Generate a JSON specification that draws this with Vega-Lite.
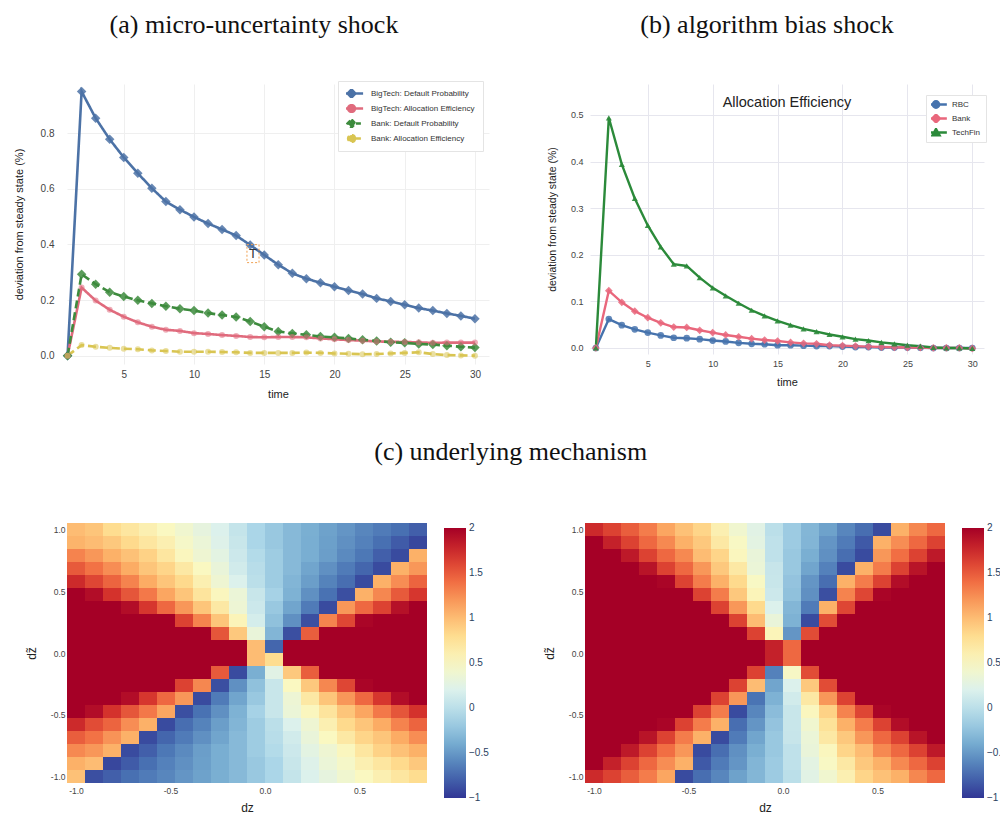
{
"$schema": "https://vega.github.io/schema/vega-lite/v6.json",
"background": "white",
"padding": {"left": 13, "top": 11, "right": 0, "bottom": 0},
"config": {
 "view": {"stroke": null},
 "font": "Liberation Sans",
 "axis": {"domain": false, "ticks": false, "labelFont": "Liberation Sans", "titleFont": "Liberation Sans", "titleFontWeight": "normal", "labelColor": "#444444", "titleColor": "#222222"},
 "title": {"font": "Liberation Serif", "fontSize": 26, "fontWeight": "normal", "color": "#111111"},
 "legend": {"labelFont": "Liberation Sans"}
},
"datasets": {
"a": [
{"time":1,"series":"BigTech: Default Probability","value":0},{"time":2,"series":"BigTech: Default Probability","value":0.95},{"time":3,"series":"BigTech: Default Probability","value":0.854},{"time":4,"series":"BigTech: Default Probability","value":0.778},{"time":5,"series":"BigTech: Default Probability","value":0.713},{"time":6,"series":"BigTech: Default Probability","value":0.656},{"time":7,"series":"BigTech: Default Probability","value":0.602},{"time":8,"series":"BigTech: Default Probability","value":0.554},{"time":9,"series":"BigTech: Default Probability","value":0.525},{"time":10,"series":"BigTech: Default Probability","value":0.499},{"time":11,"series":"BigTech: Default Probability","value":0.475},{"time":12,"series":"BigTech: Default Probability","value":0.454},{"time":13,"series":"BigTech: Default Probability","value":0.432},{"time":14,"series":"BigTech: Default Probability","value":0.398},{"time":15,"series":"BigTech: Default Probability","value":0.362},{"time":16,"series":"BigTech: Default Probability","value":0.327},{"time":17,"series":"BigTech: Default Probability","value":0.296},{"time":18,"series":"BigTech: Default Probability","value":0.277},{"time":19,"series":"BigTech: Default Probability","value":0.262},{"time":20,"series":"BigTech: Default Probability","value":0.248},{"time":21,"series":"BigTech: Default Probability","value":0.234},{"time":22,"series":"BigTech: Default Probability","value":0.222},{"time":23,"series":"BigTech: Default Probability","value":0.206},{"time":24,"series":"BigTech: Default Probability","value":0.195},{"time":25,"series":"BigTech: Default Probability","value":0.183},{"time":26,"series":"BigTech: Default Probability","value":0.171},{"time":27,"series":"BigTech: Default Probability","value":0.162},{"time":28,"series":"BigTech: Default Probability","value":0.152},{"time":29,"series":"BigTech: Default Probability","value":0.143},{"time":30,"series":"BigTech: Default Probability","value":0.133},
{"time":1,"series":"BigTech: Allocation Efficiency","value":0},{"time":2,"series":"BigTech: Allocation Efficiency","value":0.245},{"time":3,"series":"BigTech: Allocation Efficiency","value":0.198},{"time":4,"series":"BigTech: Allocation Efficiency","value":0.165},{"time":5,"series":"BigTech: Allocation Efficiency","value":0.14},{"time":6,"series":"BigTech: Allocation Efficiency","value":0.12},{"time":7,"series":"BigTech: Allocation Efficiency","value":0.104},{"time":8,"series":"BigTech: Allocation Efficiency","value":0.093},{"time":9,"series":"BigTech: Allocation Efficiency","value":0.089},{"time":10,"series":"BigTech: Allocation Efficiency","value":0.081},{"time":11,"series":"BigTech: Allocation Efficiency","value":0.078},{"time":12,"series":"BigTech: Allocation Efficiency","value":0.074},{"time":13,"series":"BigTech: Allocation Efficiency","value":0.071},{"time":14,"series":"BigTech: Allocation Efficiency","value":0.067},{"time":15,"series":"BigTech: Allocation Efficiency","value":0.066},{"time":16,"series":"BigTech: Allocation Efficiency","value":0.067},{"time":17,"series":"BigTech: Allocation Efficiency","value":0.067},{"time":18,"series":"BigTech: Allocation Efficiency","value":0.066},{"time":19,"series":"BigTech: Allocation Efficiency","value":0.062},{"time":20,"series":"BigTech: Allocation Efficiency","value":0.059},{"time":21,"series":"BigTech: Allocation Efficiency","value":0.056},{"time":22,"series":"BigTech: Allocation Efficiency","value":0.054},{"time":23,"series":"BigTech: Allocation Efficiency","value":0.051},{"time":24,"series":"BigTech: Allocation Efficiency","value":0.05},{"time":25,"series":"BigTech: Allocation Efficiency","value":0.049},{"time":26,"series":"BigTech: Allocation Efficiency","value":0.048},{"time":27,"series":"BigTech: Allocation Efficiency","value":0.046},{"time":28,"series":"BigTech: Allocation Efficiency","value":0.047},{"time":29,"series":"BigTech: Allocation Efficiency","value":0.047},{"time":30,"series":"BigTech: Allocation Efficiency","value":0.047},
{"time":1,"series":"Bank: Default Probability","value":0},{"time":2,"series":"Bank: Default Probability","value":0.293},{"time":3,"series":"Bank: Default Probability","value":0.257},{"time":4,"series":"Bank: Default Probability","value":0.228},{"time":5,"series":"Bank: Default Probability","value":0.213},{"time":6,"series":"Bank: Default Probability","value":0.199},{"time":7,"series":"Bank: Default Probability","value":0.188},{"time":8,"series":"Bank: Default Probability","value":0.178},{"time":9,"series":"Bank: Default Probability","value":0.169},{"time":10,"series":"Bank: Default Probability","value":0.162},{"time":11,"series":"Bank: Default Probability","value":0.153},{"time":12,"series":"Bank: Default Probability","value":0.146},{"time":13,"series":"Bank: Default Probability","value":0.139},{"time":14,"series":"Bank: Default Probability","value":0.123},{"time":15,"series":"Bank: Default Probability","value":0.104},{"time":16,"series":"Bank: Default Probability","value":0.087},{"time":17,"series":"Bank: Default Probability","value":0.08},{"time":18,"series":"Bank: Default Probability","value":0.075},{"time":19,"series":"Bank: Default Probability","value":0.069},{"time":20,"series":"Bank: Default Probability","value":0.066},{"time":21,"series":"Bank: Default Probability","value":0.062},{"time":22,"series":"Bank: Default Probability","value":0.057},{"time":23,"series":"Bank: Default Probability","value":0.053},{"time":24,"series":"Bank: Default Probability","value":0.048},{"time":25,"series":"Bank: Default Probability","value":0.046},{"time":26,"series":"Bank: Default Probability","value":0.042},{"time":27,"series":"Bank: Default Probability","value":0.04},{"time":28,"series":"Bank: Default Probability","value":0.036},{"time":29,"series":"Bank: Default Probability","value":0.032},{"time":30,"series":"Bank: Default Probability","value":0.029},
{"time":1,"series":"Bank: Allocation Efficiency","value":0},{"time":2,"series":"Bank: Allocation Efficiency","value":0.038},{"time":3,"series":"Bank: Allocation Efficiency","value":0.032},{"time":4,"series":"Bank: Allocation Efficiency","value":0.028},{"time":5,"series":"Bank: Allocation Efficiency","value":0.025},{"time":6,"series":"Bank: Allocation Efficiency","value":0.023},{"time":7,"series":"Bank: Allocation Efficiency","value":0.019},{"time":8,"series":"Bank: Allocation Efficiency","value":0.017},{"time":9,"series":"Bank: Allocation Efficiency","value":0.014},{"time":10,"series":"Bank: Allocation Efficiency","value":0.014},{"time":11,"series":"Bank: Allocation Efficiency","value":0.014},{"time":12,"series":"Bank: Allocation Efficiency","value":0.013},{"time":13,"series":"Bank: Allocation Efficiency","value":0.012},{"time":14,"series":"Bank: Allocation Efficiency","value":0.01},{"time":15,"series":"Bank: Allocation Efficiency","value":0.01},{"time":16,"series":"Bank: Allocation Efficiency","value":0.01},{"time":17,"series":"Bank: Allocation Efficiency","value":0.01},{"time":18,"series":"Bank: Allocation Efficiency","value":0.011},{"time":19,"series":"Bank: Allocation Efficiency","value":0.01},{"time":20,"series":"Bank: Allocation Efficiency","value":0.008},{"time":21,"series":"Bank: Allocation Efficiency","value":0.007},{"time":22,"series":"Bank: Allocation Efficiency","value":0.005},{"time":23,"series":"Bank: Allocation Efficiency","value":0.006},{"time":24,"series":"Bank: Allocation Efficiency","value":0.008},{"time":25,"series":"Bank: Allocation Efficiency","value":0.01},{"time":26,"series":"Bank: Allocation Efficiency","value":0.012},{"time":27,"series":"Bank: Allocation Efficiency","value":0.006},{"time":28,"series":"Bank: Allocation Efficiency","value":0.002},{"time":29,"series":"Bank: Allocation Efficiency","value":0.001},{"time":30,"series":"Bank: Allocation Efficiency","value":0}
],
"noteA": [{"time": 14.2, "value": 0.367, "label": "T"}],
"b": [
{"time":1,"series":"RBC","value":0},{"time":2,"series":"RBC","value":0.062},{"time":3,"series":"RBC","value":0.049},{"time":4,"series":"RBC","value":0.04},{"time":5,"series":"RBC","value":0.033},{"time":6,"series":"RBC","value":0.027},{"time":7,"series":"RBC","value":0.022},{"time":8,"series":"RBC","value":0.021},{"time":9,"series":"RBC","value":0.019},{"time":10,"series":"RBC","value":0.016},{"time":11,"series":"RBC","value":0.014},{"time":12,"series":"RBC","value":0.011},{"time":13,"series":"RBC","value":0.009},{"time":14,"series":"RBC","value":0.008},{"time":15,"series":"RBC","value":0.006},{"time":16,"series":"RBC","value":0.006},{"time":17,"series":"RBC","value":0.005},{"time":18,"series":"RBC","value":0.004},{"time":19,"series":"RBC","value":0.004},{"time":20,"series":"RBC","value":0.003},{"time":21,"series":"RBC","value":0.002},{"time":22,"series":"RBC","value":0.002},{"time":23,"series":"RBC","value":0.001},{"time":24,"series":"RBC","value":0.001},{"time":25,"series":"RBC","value":0.001},{"time":26,"series":"RBC","value":0.0005},{"time":27,"series":"RBC","value":0},{"time":28,"series":"RBC","value":0},{"time":29,"series":"RBC","value":0},{"time":30,"series":"RBC","value":0},
{"time":1,"series":"Bank","value":0},{"time":2,"series":"Bank","value":0.123},{"time":3,"series":"Bank","value":0.098},{"time":4,"series":"Bank","value":0.079},{"time":5,"series":"Bank","value":0.065},{"time":6,"series":"Bank","value":0.054},{"time":7,"series":"Bank","value":0.045},{"time":8,"series":"Bank","value":0.044},{"time":9,"series":"Bank","value":0.038},{"time":10,"series":"Bank","value":0.033},{"time":11,"series":"Bank","value":0.028},{"time":12,"series":"Bank","value":0.024},{"time":13,"series":"Bank","value":0.02},{"time":14,"series":"Bank","value":0.017},{"time":15,"series":"Bank","value":0.015},{"time":16,"series":"Bank","value":0.012},{"time":17,"series":"Bank","value":0.01},{"time":18,"series":"Bank","value":0.009},{"time":19,"series":"Bank","value":0.006},{"time":20,"series":"Bank","value":0.005},{"time":21,"series":"Bank","value":0.004},{"time":22,"series":"Bank","value":0.003},{"time":23,"series":"Bank","value":0.002},{"time":24,"series":"Bank","value":0.0015},{"time":25,"series":"Bank","value":0.001},{"time":26,"series":"Bank","value":0.001},{"time":27,"series":"Bank","value":0},{"time":28,"series":"Bank","value":0},{"time":29,"series":"Bank","value":0},{"time":30,"series":"Bank","value":-0.001},
{"time":1,"series":"TechFin","value":0},{"time":2,"series":"TechFin","value":0.494},{"time":3,"series":"TechFin","value":0.394},{"time":4,"series":"TechFin","value":0.321},{"time":5,"series":"TechFin","value":0.263},{"time":6,"series":"TechFin","value":0.217},{"time":7,"series":"TechFin","value":0.18},{"time":8,"series":"TechFin","value":0.176},{"time":9,"series":"TechFin","value":0.151},{"time":10,"series":"TechFin","value":0.129},{"time":11,"series":"TechFin","value":0.112},{"time":12,"series":"TechFin","value":0.096},{"time":13,"series":"TechFin","value":0.081},{"time":14,"series":"TechFin","value":0.069},{"time":15,"series":"TechFin","value":0.058},{"time":16,"series":"TechFin","value":0.049},{"time":17,"series":"TechFin","value":0.041},{"time":18,"series":"TechFin","value":0.035},{"time":19,"series":"TechFin","value":0.029},{"time":20,"series":"TechFin","value":0.024},{"time":21,"series":"TechFin","value":0.019},{"time":22,"series":"TechFin","value":0.016},{"time":23,"series":"TechFin","value":0.012},{"time":24,"series":"TechFin","value":0.009},{"time":25,"series":"TechFin","value":0.006},{"time":26,"series":"TechFin","value":0.004},{"time":27,"series":"TechFin","value":0.001},{"time":28,"series":"TechFin","value":0},{"time":29,"series":"TechFin","value":0},{"time":30,"series":"TechFin","value":-0.001}
],
"hL": [
{"dz":-1,"dzt":1,"v":1.0},{"dz":-0.9048,"dzt":1,"v":0.95},{"dz":-0.8095,"dzt":1,"v":0.8},{"dz":-0.7143,"dzt":1,"v":0.7},{"dz":-0.619,"dzt":1,"v":0.6},{"dz":-0.5238,"dzt":1,"v":0.5},{"dz":-0.4286,"dzt":1,"v":0.4},{"dz":-0.3333,"dzt":1,"v":0.3},{"dz":-0.2381,"dzt":1,"v":0.2},{"dz":-0.1429,"dzt":1,"v":0.05},{"dz":-0.0476,"dzt":1,"v":-0.1},{"dz":0.0476,"dzt":1,"v":-0.2},{"dz":0.1429,"dzt":1,"v":-0.3},{"dz":0.2381,"dzt":1,"v":-0.37},{"dz":0.3333,"dzt":1,"v":-0.45},{"dz":0.4286,"dzt":1,"v":-0.52},{"dz":0.5238,"dzt":1,"v":-0.6},{"dz":0.619,"dzt":1,"v":-0.66},{"dz":0.7143,"dzt":1,"v":-0.72},{"dz":0.8095,"dzt":1,"v":-0.8},
{"dz":-1,"dzt":0.8947,"v":1.05},{"dz":-0.9048,"dzt":0.8947,"v":1.0},{"dz":-0.8095,"dzt":0.8947,"v":0.93},{"dz":-0.7143,"dzt":0.8947,"v":0.82},{"dz":-0.619,"dzt":0.8947,"v":0.7},{"dz":-0.5238,"dzt":0.8947,"v":0.6},{"dz":-0.4286,"dzt":0.8947,"v":0.45},{"dz":-0.3333,"dzt":0.8947,"v":0.35},{"dz":-0.2381,"dzt":0.8947,"v":0.22},{"dz":-0.1429,"dzt":0.8947,"v":0.08},{"dz":-0.0476,"dzt":0.8947,"v":-0.1},{"dz":0.0476,"dzt":0.8947,"v":-0.2},{"dz":0.1429,"dzt":0.8947,"v":-0.3},{"dz":0.2381,"dzt":0.8947,"v":-0.38},{"dz":0.3333,"dzt":0.8947,"v":-0.46},{"dz":0.4286,"dzt":0.8947,"v":-0.55},{"dz":0.5238,"dzt":0.8947,"v":-0.63},{"dz":0.619,"dzt":0.8947,"v":-0.72},{"dz":0.7143,"dzt":0.8947,"v":-0.82},{"dz":0.8095,"dzt":0.8947,"v":-0.92},
{"dz":-1,"dzt":0.7895,"v":1.3},{"dz":-0.9048,"dzt":0.7895,"v":1.2},{"dz":-0.8095,"dzt":0.7895,"v":1.07},{"dz":-0.7143,"dzt":0.7895,"v":0.97},{"dz":-0.619,"dzt":0.7895,"v":0.87},{"dz":-0.5238,"dzt":0.7895,"v":0.7},{"dz":-0.4286,"dzt":0.7895,"v":0.52},{"dz":-0.3333,"dzt":0.7895,"v":0.38},{"dz":-0.2381,"dzt":0.7895,"v":0.27},{"dz":-0.1429,"dzt":0.7895,"v":0.1},{"dz":-0.0476,"dzt":0.7895,"v":-0.05},{"dz":0.0476,"dzt":0.7895,"v":-0.17},{"dz":0.1429,"dzt":0.7895,"v":-0.3},{"dz":0.2381,"dzt":0.7895,"v":-0.38},{"dz":0.3333,"dzt":0.7895,"v":-0.47},{"dz":0.4286,"dzt":0.7895,"v":-0.58},{"dz":0.5238,"dzt":0.7895,"v":-0.68},{"dz":0.619,"dzt":0.7895,"v":-0.8},{"dz":0.7143,"dzt":0.7895,"v":-0.9},{"dz":0.8095,"dzt":0.7895,"v":1.07},
{"dz":-1,"dzt":0.6842,"v":1.5},{"dz":-0.9048,"dzt":0.6842,"v":1.38},{"dz":-0.8095,"dzt":0.6842,"v":1.25},{"dz":-0.7143,"dzt":0.6842,"v":1.1},{"dz":-0.619,"dzt":0.6842,"v":0.95},{"dz":-0.5238,"dzt":0.6842,"v":0.85},{"dz":-0.4286,"dzt":0.6842,"v":0.68},{"dz":-0.3333,"dzt":0.6842,"v":0.5},{"dz":-0.2381,"dzt":0.6842,"v":0.33},{"dz":-0.1429,"dzt":0.6842,"v":0.13},{"dz":-0.0476,"dzt":0.6842,"v":-0.02},{"dz":0.0476,"dzt":0.6842,"v":-0.17},{"dz":0.1429,"dzt":0.6842,"v":-0.3},{"dz":0.2381,"dzt":0.6842,"v":-0.43},{"dz":0.3333,"dzt":0.6842,"v":-0.55},{"dz":0.4286,"dzt":0.6842,"v":-0.66},{"dz":0.5238,"dzt":0.6842,"v":-0.77},{"dz":0.619,"dzt":0.6842,"v":-0.9},{"dz":0.7143,"dzt":0.6842,"v":1.07},{"dz":0.8095,"dzt":0.6842,"v":1.2},
{"dz":-1,"dzt":0.5789,"v":1.75},{"dz":-0.9048,"dzt":0.5789,"v":1.6},{"dz":-0.8095,"dzt":0.5789,"v":1.45},{"dz":-0.7143,"dzt":0.5789,"v":1.3},{"dz":-0.619,"dzt":0.5789,"v":1.1},{"dz":-0.5238,"dzt":0.5789,"v":0.95},{"dz":-0.4286,"dzt":0.5789,"v":0.82},{"dz":-0.3333,"dzt":0.5789,"v":0.6},{"dz":-0.2381,"dzt":0.5789,"v":0.38},{"dz":-0.1429,"dzt":0.5789,"v":0.2},{"dz":-0.0476,"dzt":0.5789,"v":0},{"dz":0.0476,"dzt":0.5789,"v":-0.17},{"dz":0.1429,"dzt":0.5789,"v":-0.33},{"dz":0.2381,"dzt":0.5789,"v":-0.47},{"dz":0.3333,"dzt":0.5789,"v":-0.62},{"dz":0.4286,"dzt":0.5789,"v":-0.73},{"dz":0.5238,"dzt":0.5789,"v":-0.9},{"dz":0.619,"dzt":0.5789,"v":1.07},{"dz":0.7143,"dzt":0.5789,"v":1.25},{"dz":0.8095,"dzt":0.5789,"v":1.45},
{"dz":-1,"dzt":0.4737,"v":2},{"dz":-0.9048,"dzt":0.4737,"v":1.92},{"dz":-0.8095,"dzt":0.4737,"v":1.7},{"dz":-0.7143,"dzt":0.4737,"v":1.52},{"dz":-0.619,"dzt":0.4737,"v":1.35},{"dz":-0.5238,"dzt":0.4737,"v":1.13},{"dz":-0.4286,"dzt":0.4737,"v":0.95},{"dz":-0.3333,"dzt":0.4737,"v":0.72},{"dz":-0.2381,"dzt":0.4737,"v":0.52},{"dz":-0.1429,"dzt":0.4737,"v":0.35},{"dz":-0.0476,"dzt":0.4737,"v":0.08},{"dz":0.0476,"dzt":0.4737,"v":-0.13},{"dz":0.1429,"dzt":0.4737,"v":-0.35},{"dz":0.2381,"dzt":0.4737,"v":-0.55},{"dz":0.3333,"dzt":0.4737,"v":-0.71},{"dz":0.4286,"dzt":0.4737,"v":-0.88},{"dz":0.5238,"dzt":0.4737,"v":1.07},{"dz":0.619,"dzt":0.4737,"v":1.28},{"dz":0.7143,"dzt":0.4737,"v":1.5},{"dz":0.8095,"dzt":0.4737,"v":1.68},
{"dz":-1,"dzt":0.3684,"v":2},{"dz":-0.9048,"dzt":0.3684,"v":2},{"dz":-0.8095,"dzt":0.3684,"v":2},{"dz":-0.7143,"dzt":0.3684,"v":1.92},{"dz":-0.619,"dzt":0.3684,"v":1.68},{"dz":-0.5238,"dzt":0.3684,"v":1.43},{"dz":-0.4286,"dzt":0.3684,"v":1.2},{"dz":-0.3333,"dzt":0.3684,"v":0.95},{"dz":-0.2381,"dzt":0.3684,"v":0.68},{"dz":-0.1429,"dzt":0.3684,"v":0.37},{"dz":-0.0476,"dzt":0.3684,"v":0.1},{"dz":0.0476,"dzt":0.3684,"v":-0.2},{"dz":0.1429,"dzt":0.3684,"v":-0.43},{"dz":0.2381,"dzt":0.3684,"v":-0.66},{"dz":0.3333,"dzt":0.3684,"v":-0.9},{"dz":0.4286,"dzt":0.3684,"v":1.2},{"dz":0.5238,"dzt":0.3684,"v":1.43},{"dz":0.619,"dzt":0.3684,"v":1.62},{"dz":0.7143,"dzt":0.3684,"v":1.9},{"dz":0.8095,"dzt":0.3684,"v":2},
{"dz":-1,"dzt":0.2632,"v":2},{"dz":-0.9048,"dzt":0.2632,"v":2},{"dz":-0.8095,"dzt":0.2632,"v":2},{"dz":-0.7143,"dzt":0.2632,"v":2},{"dz":-0.619,"dzt":0.2632,"v":2},{"dz":-0.5238,"dzt":0.2632,"v":2},{"dz":-0.4286,"dzt":0.2632,"v":1.62},{"dz":-0.3333,"dzt":0.2632,"v":1.3},{"dz":-0.2381,"dzt":0.2632,"v":0.95},{"dz":-0.1429,"dzt":0.2632,"v":0.55},{"dz":-0.0476,"dzt":0.2632,"v":0.15},{"dz":0.0476,"dzt":0.2632,"v":-0.25},{"dz":0.1429,"dzt":0.2632,"v":-0.55},{"dz":0.2381,"dzt":0.2632,"v":-0.88},{"dz":0.3333,"dzt":0.2632,"v":1.3},{"dz":0.4286,"dzt":0.2632,"v":1.6},{"dz":0.5238,"dzt":0.2632,"v":1.97},{"dz":0.619,"dzt":0.2632,"v":2},{"dz":0.7143,"dzt":0.2632,"v":2},{"dz":0.8095,"dzt":0.2632,"v":2},
{"dz":-1,"dzt":0.1579,"v":2},{"dz":-0.9048,"dzt":0.1579,"v":2},{"dz":-0.8095,"dzt":0.1579,"v":2},{"dz":-0.7143,"dzt":0.1579,"v":2},{"dz":-0.619,"dzt":0.1579,"v":2},{"dz":-0.5238,"dzt":0.1579,"v":2},{"dz":-0.4286,"dzt":0.1579,"v":2},{"dz":-0.3333,"dzt":0.1579,"v":2},{"dz":-0.2381,"dzt":0.1579,"v":1.52},{"dz":-0.1429,"dzt":0.1579,"v":0.93},{"dz":-0.0476,"dzt":0.1579,"v":0.33},{"dz":0.0476,"dzt":0.1579,"v":-0.33},{"dz":0.1429,"dzt":0.1579,"v":-0.88},{"dz":0.2381,"dzt":0.1579,"v":1.48},{"dz":0.3333,"dzt":0.1579,"v":2},{"dz":0.4286,"dzt":0.1579,"v":2},{"dz":0.5238,"dzt":0.1579,"v":2},{"dz":0.619,"dzt":0.1579,"v":2},{"dz":0.7143,"dzt":0.1579,"v":2},{"dz":0.8095,"dzt":0.1579,"v":2},
{"dz":-1,"dzt":0.0526,"v":2},{"dz":-0.9048,"dzt":0.0526,"v":2},{"dz":-0.8095,"dzt":0.0526,"v":2},{"dz":-0.7143,"dzt":0.0526,"v":2},{"dz":-0.619,"dzt":0.0526,"v":2},{"dz":-0.5238,"dzt":0.0526,"v":2},{"dz":-0.4286,"dzt":0.0526,"v":2},{"dz":-0.3333,"dzt":0.0526,"v":2},{"dz":-0.2381,"dzt":0.0526,"v":2},{"dz":-0.1429,"dzt":0.0526,"v":2},{"dz":-0.0476,"dzt":0.0526,"v":1.0},{"dz":0.0476,"dzt":0.0526,"v":-0.77},{"dz":0.1429,"dzt":0.0526,"v":2},{"dz":0.2381,"dzt":0.0526,"v":2},{"dz":0.3333,"dzt":0.0526,"v":2},{"dz":0.4286,"dzt":0.0526,"v":2},{"dz":0.5238,"dzt":0.0526,"v":2},{"dz":0.619,"dzt":0.0526,"v":2},{"dz":0.7143,"dzt":0.0526,"v":2},{"dz":0.8095,"dzt":0.0526,"v":2},
{"dz":-1,"dzt":-0.0526,"v":2},{"dz":-0.9048,"dzt":-0.0526,"v":2},{"dz":-0.8095,"dzt":-0.0526,"v":2},{"dz":-0.7143,"dzt":-0.0526,"v":2},{"dz":-0.619,"dzt":-0.0526,"v":2},{"dz":-0.5238,"dzt":-0.0526,"v":2},{"dz":-0.4286,"dzt":-0.0526,"v":2},{"dz":-0.3333,"dzt":-0.0526,"v":2},{"dz":-0.2381,"dzt":-0.0526,"v":2},{"dz":-0.1429,"dzt":-0.0526,"v":2},{"dz":-0.0476,"dzt":-0.0526,"v":1.0},{"dz":0.0476,"dzt":-0.0526,"v":0.8},{"dz":0.1429,"dzt":-0.0526,"v":2},{"dz":0.2381,"dzt":-0.0526,"v":2},{"dz":0.3333,"dzt":-0.0526,"v":2},{"dz":0.4286,"dzt":-0.0526,"v":2},{"dz":0.5238,"dzt":-0.0526,"v":2},{"dz":0.619,"dzt":-0.0526,"v":2},{"dz":0.7143,"dzt":-0.0526,"v":2},{"dz":0.8095,"dzt":-0.0526,"v":2},
{"dz":-1,"dzt":-0.1579,"v":2},{"dz":-0.9048,"dzt":-0.1579,"v":2},{"dz":-0.8095,"dzt":-0.1579,"v":2},{"dz":-0.7143,"dzt":-0.1579,"v":2},{"dz":-0.619,"dzt":-0.1579,"v":2},{"dz":-0.5238,"dzt":-0.1579,"v":2},{"dz":-0.4286,"dzt":-0.1579,"v":2},{"dz":-0.3333,"dzt":-0.1579,"v":2},{"dz":-0.2381,"dzt":-0.1579,"v":1.5},{"dz":-0.1429,"dzt":-0.1579,"v":-0.9},{"dz":-0.0476,"dzt":-0.1579,"v":-0.37},{"dz":0.0476,"dzt":-0.1579,"v":0.25},{"dz":0.1429,"dzt":-0.1579,"v":0.93},{"dz":0.2381,"dzt":-0.1579,"v":1.48},{"dz":0.3333,"dzt":-0.1579,"v":2},{"dz":0.4286,"dzt":-0.1579,"v":2},{"dz":0.5238,"dzt":-0.1579,"v":2},{"dz":0.619,"dzt":-0.1579,"v":2},{"dz":0.7143,"dzt":-0.1579,"v":2},{"dz":0.8095,"dzt":-0.1579,"v":2},
{"dz":-1,"dzt":-0.2632,"v":2},{"dz":-0.9048,"dzt":-0.2632,"v":2},{"dz":-0.8095,"dzt":-0.2632,"v":2},{"dz":-0.7143,"dzt":-0.2632,"v":2},{"dz":-0.619,"dzt":-0.2632,"v":2},{"dz":-0.5238,"dzt":-0.2632,"v":2},{"dz":-0.4286,"dzt":-0.2632,"v":1.62},{"dz":-0.3333,"dzt":-0.2632,"v":1.28},{"dz":-0.2381,"dzt":-0.2632,"v":-0.88},{"dz":-0.1429,"dzt":-0.2632,"v":-0.55},{"dz":-0.0476,"dzt":-0.2632,"v":-0.25},{"dz":0.0476,"dzt":-0.2632,"v":0.08},{"dz":0.1429,"dzt":-0.2632,"v":0.5},{"dz":0.2381,"dzt":-0.2632,"v":0.93},{"dz":0.3333,"dzt":-0.2632,"v":1.28},{"dz":0.4286,"dzt":-0.2632,"v":1.6},{"dz":0.5238,"dzt":-0.2632,"v":1.97},{"dz":0.619,"dzt":-0.2632,"v":2},{"dz":0.7143,"dzt":-0.2632,"v":2},{"dz":0.8095,"dzt":-0.2632,"v":2},
{"dz":-1,"dzt":-0.3684,"v":2},{"dz":-0.9048,"dzt":-0.3684,"v":2},{"dz":-0.8095,"dzt":-0.3684,"v":2},{"dz":-0.7143,"dzt":-0.3684,"v":1.92},{"dz":-0.619,"dzt":-0.3684,"v":1.68},{"dz":-0.5238,"dzt":-0.3684,"v":1.43},{"dz":-0.4286,"dzt":-0.3684,"v":1.2},{"dz":-0.3333,"dzt":-0.3684,"v":-0.9},{"dz":-0.2381,"dzt":-0.3684,"v":-0.66},{"dz":-0.1429,"dzt":-0.3684,"v":-0.43},{"dz":-0.0476,"dzt":-0.3684,"v":-0.2},{"dz":0.0476,"dzt":-0.3684,"v":0.08},{"dz":0.1429,"dzt":-0.3684,"v":0.37},{"dz":0.2381,"dzt":-0.3684,"v":0.68},{"dz":0.3333,"dzt":-0.3684,"v":0.95},{"dz":0.4286,"dzt":-0.3684,"v":1.2},{"dz":0.5238,"dzt":-0.3684,"v":1.43},{"dz":0.619,"dzt":-0.3684,"v":1.68},{"dz":0.7143,"dzt":-0.3684,"v":1.92},{"dz":0.8095,"dzt":-0.3684,"v":2},
{"dz":-1,"dzt":-0.4737,"v":2},{"dz":-0.9048,"dzt":-0.4737,"v":1.92},{"dz":-0.8095,"dzt":-0.4737,"v":1.7},{"dz":-0.7143,"dzt":-0.4737,"v":1.52},{"dz":-0.619,"dzt":-0.4737,"v":1.35},{"dz":-0.5238,"dzt":-0.4737,"v":1.13},{"dz":-0.4286,"dzt":-0.4737,"v":-0.88},{"dz":-0.3333,"dzt":-0.4737,"v":-0.71},{"dz":-0.2381,"dzt":-0.4737,"v":-0.55},{"dz":-0.1429,"dzt":-0.4737,"v":-0.35},{"dz":-0.0476,"dzt":-0.4737,"v":-0.13},{"dz":0.0476,"dzt":-0.4737,"v":0.08},{"dz":0.1429,"dzt":-0.4737,"v":0.35},{"dz":0.2381,"dzt":-0.4737,"v":0.52},{"dz":0.3333,"dzt":-0.4737,"v":0.72},{"dz":0.4286,"dzt":-0.4737,"v":0.95},{"dz":0.5238,"dzt":-0.4737,"v":1.13},{"dz":0.619,"dzt":-0.4737,"v":1.35},{"dz":0.7143,"dzt":-0.4737,"v":1.52},{"dz":0.8095,"dzt":-0.4737,"v":1.7},
{"dz":-1,"dzt":-0.5789,"v":1.75},{"dz":-0.9048,"dzt":-0.5789,"v":1.57},{"dz":-0.8095,"dzt":-0.5789,"v":1.45},{"dz":-0.7143,"dzt":-0.5789,"v":1.25},{"dz":-0.619,"dzt":-0.5789,"v":1.07},{"dz":-0.5238,"dzt":-0.5789,"v":-0.9},{"dz":-0.4286,"dzt":-0.5789,"v":-0.73},{"dz":-0.3333,"dzt":-0.5789,"v":-0.62},{"dz":-0.2381,"dzt":-0.5789,"v":-0.47},{"dz":-0.1429,"dzt":-0.5789,"v":-0.33},{"dz":-0.0476,"dzt":-0.5789,"v":-0.17},{"dz":0.0476,"dzt":-0.5789,"v":0},{"dz":0.1429,"dzt":-0.5789,"v":0.2},{"dz":0.2381,"dzt":-0.5789,"v":0.38},{"dz":0.3333,"dzt":-0.5789,"v":0.6},{"dz":0.4286,"dzt":-0.5789,"v":0.82},{"dz":0.5238,"dzt":-0.5789,"v":0.95},{"dz":0.619,"dzt":-0.5789,"v":1.1},{"dz":0.7143,"dzt":-0.5789,"v":1.3},{"dz":0.8095,"dzt":-0.5789,"v":1.45},
{"dz":-1,"dzt":-0.6842,"v":1.48},{"dz":-0.9048,"dzt":-0.6842,"v":1.38},{"dz":-0.8095,"dzt":-0.6842,"v":1.22},{"dz":-0.7143,"dzt":-0.6842,"v":1.07},{"dz":-0.619,"dzt":-0.6842,"v":-0.9},{"dz":-0.5238,"dzt":-0.6842,"v":-0.77},{"dz":-0.4286,"dzt":-0.6842,"v":-0.66},{"dz":-0.3333,"dzt":-0.6842,"v":-0.55},{"dz":-0.2381,"dzt":-0.6842,"v":-0.43},{"dz":-0.1429,"dzt":-0.6842,"v":-0.3},{"dz":-0.0476,"dzt":-0.6842,"v":-0.17},{"dz":0.0476,"dzt":-0.6842,"v":-0.02},{"dz":0.1429,"dzt":-0.6842,"v":0.13},{"dz":0.2381,"dzt":-0.6842,"v":0.33},{"dz":0.3333,"dzt":-0.6842,"v":0.5},{"dz":0.4286,"dzt":-0.6842,"v":0.68},{"dz":0.5238,"dzt":-0.6842,"v":0.85},{"dz":0.619,"dzt":-0.6842,"v":0.95},{"dz":0.7143,"dzt":-0.6842,"v":1.1},{"dz":0.8095,"dzt":-0.6842,"v":1.25},
{"dz":-1,"dzt":-0.7895,"v":1.27},{"dz":-0.9048,"dzt":-0.7895,"v":1.2},{"dz":-0.8095,"dzt":-0.7895,"v":1.07},{"dz":-0.7143,"dzt":-0.7895,"v":-0.9},{"dz":-0.619,"dzt":-0.7895,"v":-0.8},{"dz":-0.5238,"dzt":-0.7895,"v":-0.68},{"dz":-0.4286,"dzt":-0.7895,"v":-0.58},{"dz":-0.3333,"dzt":-0.7895,"v":-0.47},{"dz":-0.2381,"dzt":-0.7895,"v":-0.38},{"dz":-0.1429,"dzt":-0.7895,"v":-0.3},{"dz":-0.0476,"dzt":-0.7895,"v":-0.17},{"dz":0.0476,"dzt":-0.7895,"v":-0.05},{"dz":0.1429,"dzt":-0.7895,"v":0.1},{"dz":0.2381,"dzt":-0.7895,"v":0.27},{"dz":0.3333,"dzt":-0.7895,"v":0.38},{"dz":0.4286,"dzt":-0.7895,"v":0.52},{"dz":0.5238,"dzt":-0.7895,"v":0.7},{"dz":0.619,"dzt":-0.7895,"v":0.87},{"dz":0.7143,"dzt":-0.7895,"v":0.97},{"dz":0.8095,"dzt":-0.7895,"v":1.07},
{"dz":-1,"dzt":-0.8947,"v":1.07},{"dz":-0.9048,"dzt":-0.8947,"v":1.0},{"dz":-0.8095,"dzt":-0.8947,"v":-0.92},{"dz":-0.7143,"dzt":-0.8947,"v":-0.82},{"dz":-0.619,"dzt":-0.8947,"v":-0.72},{"dz":-0.5238,"dzt":-0.8947,"v":-0.63},{"dz":-0.4286,"dzt":-0.8947,"v":-0.55},{"dz":-0.3333,"dzt":-0.8947,"v":-0.46},{"dz":-0.2381,"dzt":-0.8947,"v":-0.38},{"dz":-0.1429,"dzt":-0.8947,"v":-0.3},{"dz":-0.0476,"dzt":-0.8947,"v":-0.2},{"dz":0.0476,"dzt":-0.8947,"v":-0.1},{"dz":0.1429,"dzt":-0.8947,"v":0.08},{"dz":0.2381,"dzt":-0.8947,"v":0.22},{"dz":0.3333,"dzt":-0.8947,"v":0.35},{"dz":0.4286,"dzt":-0.8947,"v":0.45},{"dz":0.5238,"dzt":-0.8947,"v":0.6},{"dz":0.619,"dzt":-0.8947,"v":0.7},{"dz":0.7143,"dzt":-0.8947,"v":0.82},{"dz":0.8095,"dzt":-0.8947,"v":0.93},
{"dz":-1,"dzt":-1,"v":0.97},{"dz":-0.9048,"dzt":-1,"v":-0.88},{"dz":-0.8095,"dzt":-1,"v":-0.8},{"dz":-0.7143,"dzt":-1,"v":-0.72},{"dz":-0.619,"dzt":-1,"v":-0.66},{"dz":-0.5238,"dzt":-1,"v":-0.6},{"dz":-0.4286,"dzt":-1,"v":-0.52},{"dz":-0.3333,"dzt":-1,"v":-0.45},{"dz":-0.2381,"dzt":-1,"v":-0.37},{"dz":-0.1429,"dzt":-1,"v":-0.3},{"dz":-0.0476,"dzt":-1,"v":-0.2},{"dz":0.0476,"dzt":-1,"v":-0.1},{"dz":0.1429,"dzt":-1,"v":0.05},{"dz":0.2381,"dzt":-1,"v":0.2},{"dz":0.3333,"dzt":-1,"v":0.3},{"dz":0.4286,"dzt":-1,"v":0.4},{"dz":0.5238,"dzt":-1,"v":0.5},{"dz":0.619,"dzt":-1,"v":0.6},{"dz":0.7143,"dzt":-1,"v":0.7},{"dz":0.8095,"dzt":-1,"v":0.8}
],
"hR": [
{"dz":-1,"dzt":1,"v":1.75},{"dz":-0.9048,"dzt":1,"v":1.62},{"dz":-0.8095,"dzt":1,"v":1.48},{"dz":-0.7143,"dzt":1,"v":1.33},{"dz":-0.619,"dzt":1,"v":1.13},{"dz":-0.5238,"dzt":1,"v":0.97},{"dz":-0.4286,"dzt":1,"v":0.85},{"dz":-0.3333,"dzt":1,"v":0.6},{"dz":-0.2381,"dzt":1,"v":0.4},{"dz":-0.1429,"dzt":1,"v":0.25},{"dz":-0.0476,"dzt":1,"v":0},{"dz":0.0476,"dzt":1,"v":-0.18},{"dz":0.1429,"dzt":1,"v":-0.32},{"dz":0.2381,"dzt":1,"v":-0.45},{"dz":0.3333,"dzt":1,"v":-0.6},{"dz":0.4286,"dzt":1,"v":-0.73},{"dz":0.5238,"dzt":1,"v":-0.9},{"dz":0.619,"dzt":1,"v":1.07},{"dz":0.7143,"dzt":1,"v":1.28},{"dz":0.8095,"dzt":1,"v":1.43},
{"dz":-1,"dzt":0.8947,"v":2},{"dz":-0.9048,"dzt":0.8947,"v":1.8},{"dz":-0.8095,"dzt":0.8947,"v":1.62},{"dz":-0.7143,"dzt":0.8947,"v":1.43},{"dz":-0.619,"dzt":0.8947,"v":1.27},{"dz":-0.5238,"dzt":0.8947,"v":1.07},{"dz":-0.4286,"dzt":0.8947,"v":0.93},{"dz":-0.3333,"dzt":0.8947,"v":0.68},{"dz":-0.2381,"dzt":0.8947,"v":0.48},{"dz":-0.1429,"dzt":0.8947,"v":0.27},{"dz":-0.0476,"dzt":0.8947,"v":0.02},{"dz":0.0476,"dzt":0.8947,"v":-0.18},{"dz":0.1429,"dzt":0.8947,"v":-0.33},{"dz":0.2381,"dzt":0.8947,"v":-0.52},{"dz":0.3333,"dzt":0.8947,"v":-0.66},{"dz":0.4286,"dzt":0.8947,"v":-0.83},{"dz":0.5238,"dzt":0.8947,"v":1.07},{"dz":0.619,"dzt":0.8947,"v":1.25},{"dz":0.7143,"dzt":0.8947,"v":1.43},{"dz":0.8095,"dzt":0.8947,"v":1.62},
{"dz":-1,"dzt":0.7895,"v":2},{"dz":-0.9048,"dzt":0.7895,"v":2},{"dz":-0.8095,"dzt":0.7895,"v":1.85},{"dz":-0.7143,"dzt":0.7895,"v":1.62},{"dz":-0.619,"dzt":0.7895,"v":1.43},{"dz":-0.5238,"dzt":0.7895,"v":1.27},{"dz":-0.4286,"dzt":0.7895,"v":1.0},{"dz":-0.3333,"dzt":0.7895,"v":0.85},{"dz":-0.2381,"dzt":0.7895,"v":0.52},{"dz":-0.1429,"dzt":0.7895,"v":0.33},{"dz":-0.0476,"dzt":0.7895,"v":0.02},{"dz":0.0476,"dzt":0.7895,"v":-0.2},{"dz":0.1429,"dzt":0.7895,"v":-0.37},{"dz":0.2381,"dzt":0.7895,"v":-0.55},{"dz":0.3333,"dzt":0.7895,"v":-0.73},{"dz":0.4286,"dzt":0.7895,"v":-0.9},{"dz":0.5238,"dzt":0.7895,"v":1.2},{"dz":0.619,"dzt":0.7895,"v":1.4},{"dz":0.7143,"dzt":0.7895,"v":1.62},{"dz":0.8095,"dzt":0.7895,"v":1.85},
{"dz":-1,"dzt":0.6842,"v":2},{"dz":-0.9048,"dzt":0.6842,"v":2},{"dz":-0.8095,"dzt":0.6842,"v":2},{"dz":-0.7143,"dzt":0.6842,"v":1.88},{"dz":-0.619,"dzt":0.6842,"v":1.62},{"dz":-0.5238,"dzt":0.6842,"v":1.43},{"dz":-0.4286,"dzt":0.6842,"v":1.2},{"dz":-0.3333,"dzt":0.6842,"v":0.93},{"dz":-0.2381,"dzt":0.6842,"v":0.68},{"dz":-0.1429,"dzt":0.6842,"v":0.35},{"dz":-0.0476,"dzt":0.6842,"v":0.07},{"dz":0.0476,"dzt":0.6842,"v":-0.2},{"dz":0.1429,"dzt":0.6842,"v":-0.43},{"dz":0.2381,"dzt":0.6842,"v":-0.63},{"dz":0.3333,"dzt":0.6842,"v":-0.9},{"dz":0.4286,"dzt":0.6842,"v":1.07},{"dz":0.5238,"dzt":0.6842,"v":1.33},{"dz":0.619,"dzt":0.6842,"v":1.62},{"dz":0.7143,"dzt":0.6842,"v":1.88},{"dz":0.8095,"dzt":0.6842,"v":2},
{"dz":-1,"dzt":0.5789,"v":2},{"dz":-0.9048,"dzt":0.5789,"v":2},{"dz":-0.8095,"dzt":0.5789,"v":2},{"dz":-0.7143,"dzt":0.5789,"v":2},{"dz":-0.619,"dzt":0.5789,"v":1.97},{"dz":-0.5238,"dzt":0.5789,"v":1.62},{"dz":-0.4286,"dzt":0.5789,"v":1.33},{"dz":-0.3333,"dzt":0.5789,"v":1.07},{"dz":-0.2381,"dzt":0.5789,"v":0.82},{"dz":-0.1429,"dzt":0.5789,"v":0.48},{"dz":-0.0476,"dzt":0.5789,"v":0.08},{"dz":0.0476,"dzt":0.5789,"v":-0.23},{"dz":0.1429,"dzt":0.5789,"v":-0.52},{"dz":0.2381,"dzt":0.5789,"v":-0.73},{"dz":0.3333,"dzt":0.5789,"v":1.07},{"dz":0.4286,"dzt":0.5789,"v":1.33},{"dz":0.5238,"dzt":0.5789,"v":1.62},{"dz":0.619,"dzt":0.5789,"v":1.92},{"dz":0.7143,"dzt":0.5789,"v":2},{"dz":0.8095,"dzt":0.5789,"v":2},
{"dz":-1,"dzt":0.4737,"v":2},{"dz":-0.9048,"dzt":0.4737,"v":2},{"dz":-0.8095,"dzt":0.4737,"v":2},{"dz":-0.7143,"dzt":0.4737,"v":2},{"dz":-0.619,"dzt":0.4737,"v":2},{"dz":-0.5238,"dzt":0.4737,"v":2},{"dz":-0.4286,"dzt":0.4737,"v":1.62},{"dz":-0.3333,"dzt":0.4737,"v":1.33},{"dz":-0.2381,"dzt":0.4737,"v":0.93},{"dz":-0.1429,"dzt":0.4737,"v":0.55},{"dz":-0.0476,"dzt":0.4737,"v":0.1},{"dz":0.0476,"dzt":0.4737,"v":-0.25},{"dz":0.1429,"dzt":0.4737,"v":-0.55},{"dz":0.2381,"dzt":0.4737,"v":-0.88},{"dz":0.3333,"dzt":0.4737,"v":1.3},{"dz":0.4286,"dzt":0.4737,"v":1.6},{"dz":0.5238,"dzt":0.4737,"v":1.97},{"dz":0.619,"dzt":0.4737,"v":2},{"dz":0.7143,"dzt":0.4737,"v":2},{"dz":0.8095,"dzt":0.4737,"v":2},
{"dz":-1,"dzt":0.3684,"v":2},{"dz":-0.9048,"dzt":0.3684,"v":2},{"dz":-0.8095,"dzt":0.3684,"v":2},{"dz":-0.7143,"dzt":0.3684,"v":2},{"dz":-0.619,"dzt":0.3684,"v":2},{"dz":-0.5238,"dzt":0.3684,"v":2},{"dz":-0.4286,"dzt":0.3684,"v":2},{"dz":-0.3333,"dzt":0.3684,"v":1.62},{"dz":-0.2381,"dzt":0.3684,"v":1.2},{"dz":-0.1429,"dzt":0.3684,"v":0.82},{"dz":-0.0476,"dzt":0.3684,"v":0.2},{"dz":0.0476,"dzt":0.3684,"v":-0.32},{"dz":0.1429,"dzt":0.3684,"v":-0.66},{"dz":0.2381,"dzt":0.3684,"v":1.07},{"dz":0.3333,"dzt":0.3684,"v":1.6},{"dz":0.4286,"dzt":0.3684,"v":2},{"dz":0.5238,"dzt":0.3684,"v":2},{"dz":0.619,"dzt":0.3684,"v":2},{"dz":0.7143,"dzt":0.3684,"v":2},{"dz":0.8095,"dzt":0.3684,"v":2},
{"dz":-1,"dzt":0.2632,"v":2},{"dz":-0.9048,"dzt":0.2632,"v":2},{"dz":-0.8095,"dzt":0.2632,"v":2},{"dz":-0.7143,"dzt":0.2632,"v":2},{"dz":-0.619,"dzt":0.2632,"v":2},{"dz":-0.5238,"dzt":0.2632,"v":2},{"dz":-0.4286,"dzt":0.2632,"v":2},{"dz":-0.3333,"dzt":0.2632,"v":2},{"dz":-0.2381,"dzt":0.2632,"v":1.62},{"dz":-0.1429,"dzt":0.2632,"v":1.0},{"dz":-0.0476,"dzt":0.2632,"v":0.33},{"dz":0.0476,"dzt":0.2632,"v":-0.35},{"dz":0.1429,"dzt":0.2632,"v":-0.9},{"dz":0.2381,"dzt":0.2632,"v":1.57},{"dz":0.3333,"dzt":0.2632,"v":2},{"dz":0.4286,"dzt":0.2632,"v":2},{"dz":0.5238,"dzt":0.2632,"v":2},{"dz":0.619,"dzt":0.2632,"v":2},{"dz":0.7143,"dzt":0.2632,"v":2},{"dz":0.8095,"dzt":0.2632,"v":2},
{"dz":-1,"dzt":0.1579,"v":2},{"dz":-0.9048,"dzt":0.1579,"v":2},{"dz":-0.8095,"dzt":0.1579,"v":2},{"dz":-0.7143,"dzt":0.1579,"v":2},{"dz":-0.619,"dzt":0.1579,"v":2},{"dz":-0.5238,"dzt":0.1579,"v":2},{"dz":-0.4286,"dzt":0.1579,"v":2},{"dz":-0.3333,"dzt":0.1579,"v":2},{"dz":-0.2381,"dzt":0.1579,"v":2},{"dz":-0.1429,"dzt":0.1579,"v":1.62},{"dz":-0.0476,"dzt":0.1579,"v":0.55},{"dz":0.0476,"dzt":0.1579,"v":-0.52},{"dz":0.1429,"dzt":0.1579,"v":1.57},{"dz":0.2381,"dzt":0.1579,"v":2},{"dz":0.3333,"dzt":0.1579,"v":2},{"dz":0.4286,"dzt":0.1579,"v":2},{"dz":0.5238,"dzt":0.1579,"v":2},{"dz":0.619,"dzt":0.1579,"v":2},{"dz":0.7143,"dzt":0.1579,"v":2},{"dz":0.8095,"dzt":0.1579,"v":2},
{"dz":-1,"dzt":0.0526,"v":2},{"dz":-0.9048,"dzt":0.0526,"v":2},{"dz":-0.8095,"dzt":0.0526,"v":2},{"dz":-0.7143,"dzt":0.0526,"v":2},{"dz":-0.619,"dzt":0.0526,"v":2},{"dz":-0.5238,"dzt":0.0526,"v":2},{"dz":-0.4286,"dzt":0.0526,"v":2},{"dz":-0.3333,"dzt":0.0526,"v":2},{"dz":-0.2381,"dzt":0.0526,"v":2},{"dz":-0.1429,"dzt":0.0526,"v":2},{"dz":-0.0476,"dzt":0.0526,"v":1.8},{"dz":0.0476,"dzt":0.0526,"v":1.43},{"dz":0.1429,"dzt":0.0526,"v":2},{"dz":0.2381,"dzt":0.0526,"v":2},{"dz":0.3333,"dzt":0.0526,"v":2},{"dz":0.4286,"dzt":0.0526,"v":2},{"dz":0.5238,"dzt":0.0526,"v":2},{"dz":0.619,"dzt":0.0526,"v":2},{"dz":0.7143,"dzt":0.0526,"v":2},{"dz":0.8095,"dzt":0.0526,"v":2},
{"dz":-1,"dzt":-0.0526,"v":2},{"dz":-0.9048,"dzt":-0.0526,"v":2},{"dz":-0.8095,"dzt":-0.0526,"v":2},{"dz":-0.7143,"dzt":-0.0526,"v":2},{"dz":-0.619,"dzt":-0.0526,"v":2},{"dz":-0.5238,"dzt":-0.0526,"v":2},{"dz":-0.4286,"dzt":-0.0526,"v":2},{"dz":-0.3333,"dzt":-0.0526,"v":2},{"dz":-0.2381,"dzt":-0.0526,"v":2},{"dz":-0.1429,"dzt":-0.0526,"v":2},{"dz":-0.0476,"dzt":-0.0526,"v":1.8},{"dz":0.0476,"dzt":-0.0526,"v":1.43},{"dz":0.1429,"dzt":-0.0526,"v":2},{"dz":0.2381,"dzt":-0.0526,"v":2},{"dz":0.3333,"dzt":-0.0526,"v":2},{"dz":0.4286,"dzt":-0.0526,"v":2},{"dz":0.5238,"dzt":-0.0526,"v":2},{"dz":0.619,"dzt":-0.0526,"v":2},{"dz":0.7143,"dzt":-0.0526,"v":2},{"dz":0.8095,"dzt":-0.0526,"v":2},
{"dz":-1,"dzt":-0.1579,"v":2},{"dz":-0.9048,"dzt":-0.1579,"v":2},{"dz":-0.8095,"dzt":-0.1579,"v":2},{"dz":-0.7143,"dzt":-0.1579,"v":2},{"dz":-0.619,"dzt":-0.1579,"v":2},{"dz":-0.5238,"dzt":-0.1579,"v":2},{"dz":-0.4286,"dzt":-0.1579,"v":2},{"dz":-0.3333,"dzt":-0.1579,"v":2},{"dz":-0.2381,"dzt":-0.1579,"v":2},{"dz":-0.1429,"dzt":-0.1579,"v":1.62},{"dz":-0.0476,"dzt":-0.1579,"v":-0.63},{"dz":0.0476,"dzt":-0.1579,"v":0.47},{"dz":0.1429,"dzt":-0.1579,"v":1.57},{"dz":0.2381,"dzt":-0.1579,"v":2},{"dz":0.3333,"dzt":-0.1579,"v":2},{"dz":0.4286,"dzt":-0.1579,"v":2},{"dz":0.5238,"dzt":-0.1579,"v":2},{"dz":0.619,"dzt":-0.1579,"v":2},{"dz":0.7143,"dzt":-0.1579,"v":2},{"dz":0.8095,"dzt":-0.1579,"v":2},
{"dz":-1,"dzt":-0.2632,"v":2},{"dz":-0.9048,"dzt":-0.2632,"v":2},{"dz":-0.8095,"dzt":-0.2632,"v":2},{"dz":-0.7143,"dzt":-0.2632,"v":2},{"dz":-0.619,"dzt":-0.2632,"v":2},{"dz":-0.5238,"dzt":-0.2632,"v":2},{"dz":-0.4286,"dzt":-0.2632,"v":2},{"dz":-0.3333,"dzt":-0.2632,"v":2},{"dz":-0.2381,"dzt":-0.2632,"v":1.62},{"dz":-0.1429,"dzt":-0.2632,"v":1.0},{"dz":-0.0476,"dzt":-0.2632,"v":-0.43},{"dz":0.0476,"dzt":-0.2632,"v":0.2},{"dz":0.1429,"dzt":-0.2632,"v":0.93},{"dz":0.2381,"dzt":-0.2632,"v":1.57},{"dz":0.3333,"dzt":-0.2632,"v":2},{"dz":0.4286,"dzt":-0.2632,"v":2},{"dz":0.5238,"dzt":-0.2632,"v":2},{"dz":0.619,"dzt":-0.2632,"v":2},{"dz":0.7143,"dzt":-0.2632,"v":2},{"dz":0.8095,"dzt":-0.2632,"v":2},
{"dz":-1,"dzt":-0.3684,"v":2},{"dz":-0.9048,"dzt":-0.3684,"v":2},{"dz":-0.8095,"dzt":-0.3684,"v":2},{"dz":-0.7143,"dzt":-0.3684,"v":2},{"dz":-0.619,"dzt":-0.3684,"v":2},{"dz":-0.5238,"dzt":-0.3684,"v":2},{"dz":-0.4286,"dzt":-0.3684,"v":2},{"dz":-0.3333,"dzt":-0.3684,"v":1.62},{"dz":-0.2381,"dzt":-0.3684,"v":1.2},{"dz":-0.1429,"dzt":-0.3684,"v":-0.7},{"dz":-0.0476,"dzt":-0.3684,"v":-0.35},{"dz":0.0476,"dzt":-0.3684,"v":0.13},{"dz":0.1429,"dzt":-0.3684,"v":0.68},{"dz":0.2381,"dzt":-0.3684,"v":1.2},{"dz":0.3333,"dzt":-0.3684,"v":1.62},{"dz":0.4286,"dzt":-0.3684,"v":2},{"dz":0.5238,"dzt":-0.3684,"v":2},{"dz":0.619,"dzt":-0.3684,"v":2},{"dz":0.7143,"dzt":-0.3684,"v":2},{"dz":0.8095,"dzt":-0.3684,"v":2},
{"dz":-1,"dzt":-0.4737,"v":2},{"dz":-0.9048,"dzt":-0.4737,"v":2},{"dz":-0.8095,"dzt":-0.4737,"v":2},{"dz":-0.7143,"dzt":-0.4737,"v":2},{"dz":-0.619,"dzt":-0.4737,"v":2},{"dz":-0.5238,"dzt":-0.4737,"v":2},{"dz":-0.4286,"dzt":-0.4737,"v":1.62},{"dz":-0.3333,"dzt":-0.4737,"v":1.33},{"dz":-0.2381,"dzt":-0.4737,"v":-0.9},{"dz":-0.1429,"dzt":-0.4737,"v":-0.6},{"dz":-0.0476,"dzt":-0.4737,"v":-0.28},{"dz":0.0476,"dzt":-0.4737,"v":0.08},{"dz":0.1429,"dzt":-0.4737,"v":0.52},{"dz":0.2381,"dzt":-0.4737,"v":0.87},{"dz":0.3333,"dzt":-0.4737,"v":1.3},{"dz":0.4286,"dzt":-0.4737,"v":1.6},{"dz":0.5238,"dzt":-0.4737,"v":1.97},{"dz":0.619,"dzt":-0.4737,"v":2},{"dz":0.7143,"dzt":-0.4737,"v":2},{"dz":0.8095,"dzt":-0.4737,"v":2},
{"dz":-1,"dzt":-0.5789,"v":2},{"dz":-0.9048,"dzt":-0.5789,"v":2},{"dz":-0.8095,"dzt":-0.5789,"v":2},{"dz":-0.7143,"dzt":-0.5789,"v":2},{"dz":-0.619,"dzt":-0.5789,"v":1.97},{"dz":-0.5238,"dzt":-0.5789,"v":1.62},{"dz":-0.4286,"dzt":-0.5789,"v":1.33},{"dz":-0.3333,"dzt":-0.5789,"v":1.07},{"dz":-0.2381,"dzt":-0.5789,"v":-0.73},{"dz":-0.1429,"dzt":-0.5789,"v":-0.52},{"dz":-0.0476,"dzt":-0.5789,"v":-0.23},{"dz":0.0476,"dzt":-0.5789,"v":0.08},{"dz":0.1429,"dzt":-0.5789,"v":0.4},{"dz":0.2381,"dzt":-0.5789,"v":0.75},{"dz":0.3333,"dzt":-0.5789,"v":1.07},{"dz":0.4286,"dzt":-0.5789,"v":1.33},{"dz":0.5238,"dzt":-0.5789,"v":1.62},{"dz":0.619,"dzt":-0.5789,"v":1.92},{"dz":0.7143,"dzt":-0.5789,"v":2},{"dz":0.8095,"dzt":-0.5789,"v":2},
{"dz":-1,"dzt":-0.6842,"v":2},{"dz":-0.9048,"dzt":-0.6842,"v":2},{"dz":-0.8095,"dzt":-0.6842,"v":2},{"dz":-0.7143,"dzt":-0.6842,"v":1.88},{"dz":-0.619,"dzt":-0.6842,"v":1.62},{"dz":-0.5238,"dzt":-0.6842,"v":1.33},{"dz":-0.4286,"dzt":-0.6842,"v":1.07},{"dz":-0.3333,"dzt":-0.6842,"v":-0.9},{"dz":-0.2381,"dzt":-0.6842,"v":-0.66},{"dz":-0.1429,"dzt":-0.6842,"v":-0.43},{"dz":-0.0476,"dzt":-0.6842,"v":-0.2},{"dz":0.0476,"dzt":-0.6842,"v":0.07},{"dz":0.1429,"dzt":-0.6842,"v":0.35},{"dz":0.2381,"dzt":-0.6842,"v":0.68},{"dz":0.3333,"dzt":-0.6842,"v":0.93},{"dz":0.4286,"dzt":-0.6842,"v":1.2},{"dz":0.5238,"dzt":-0.6842,"v":1.43},{"dz":0.619,"dzt":-0.6842,"v":1.62},{"dz":0.7143,"dzt":-0.6842,"v":1.88},{"dz":0.8095,"dzt":-0.6842,"v":2},
{"dz":-1,"dzt":-0.7895,"v":2},{"dz":-0.9048,"dzt":-0.7895,"v":2},{"dz":-0.8095,"dzt":-0.7895,"v":1.85},{"dz":-0.7143,"dzt":-0.7895,"v":1.62},{"dz":-0.619,"dzt":-0.7895,"v":1.4},{"dz":-0.5238,"dzt":-0.7895,"v":1.2},{"dz":-0.4286,"dzt":-0.7895,"v":-0.9},{"dz":-0.3333,"dzt":-0.7895,"v":-0.73},{"dz":-0.2381,"dzt":-0.7895,"v":-0.55},{"dz":-0.1429,"dzt":-0.7895,"v":-0.37},{"dz":-0.0476,"dzt":-0.7895,"v":-0.2},{"dz":0.0476,"dzt":-0.7895,"v":0.02},{"dz":0.1429,"dzt":-0.7895,"v":0.33},{"dz":0.2381,"dzt":-0.7895,"v":0.52},{"dz":0.3333,"dzt":-0.7895,"v":0.85},{"dz":0.4286,"dzt":-0.7895,"v":1.0},{"dz":0.5238,"dzt":-0.7895,"v":1.27},{"dz":0.619,"dzt":-0.7895,"v":1.43},{"dz":0.7143,"dzt":-0.7895,"v":1.62},{"dz":0.8095,"dzt":-0.7895,"v":1.85},
{"dz":-1,"dzt":-0.8947,"v":2},{"dz":-0.9048,"dzt":-0.8947,"v":1.8},{"dz":-0.8095,"dzt":-0.8947,"v":1.62},{"dz":-0.7143,"dzt":-0.8947,"v":1.43},{"dz":-0.619,"dzt":-0.8947,"v":1.25},{"dz":-0.5238,"dzt":-0.8947,"v":1.07},{"dz":-0.4286,"dzt":-0.8947,"v":-0.83},{"dz":-0.3333,"dzt":-0.8947,"v":-0.66},{"dz":-0.2381,"dzt":-0.8947,"v":-0.52},{"dz":-0.1429,"dzt":-0.8947,"v":-0.33},{"dz":-0.0476,"dzt":-0.8947,"v":-0.18},{"dz":0.0476,"dzt":-0.8947,"v":0.02},{"dz":0.1429,"dzt":-0.8947,"v":0.27},{"dz":0.2381,"dzt":-0.8947,"v":0.48},{"dz":0.3333,"dzt":-0.8947,"v":0.68},{"dz":0.4286,"dzt":-0.8947,"v":0.93},{"dz":0.5238,"dzt":-0.8947,"v":1.07},{"dz":0.619,"dzt":-0.8947,"v":1.27},{"dz":0.7143,"dzt":-0.8947,"v":1.43},{"dz":0.8095,"dzt":-0.8947,"v":1.62},
{"dz":-1,"dzt":-1,"v":1.75},{"dz":-0.9048,"dzt":-1,"v":1.62},{"dz":-0.8095,"dzt":-1,"v":1.48},{"dz":-0.7143,"dzt":-1,"v":1.33},{"dz":-0.619,"dzt":-1,"v":1.13},{"dz":-0.5238,"dzt":-1,"v":-0.9},{"dz":-0.4286,"dzt":-1,"v":-0.73},{"dz":-0.3333,"dzt":-1,"v":-0.6},{"dz":-0.2381,"dzt":-1,"v":-0.45},{"dz":-0.1429,"dzt":-1,"v":-0.32},{"dz":-0.0476,"dzt":-1,"v":-0.18},{"dz":0.0476,"dzt":-1,"v":0},{"dz":0.1429,"dzt":-1,"v":0.25},{"dz":0.2381,"dzt":-1,"v":0.4},{"dz":0.3333,"dzt":-1,"v":0.6},{"dz":0.4286,"dzt":-1,"v":0.85},{"dz":0.5238,"dzt":-1,"v":0.97},{"dz":0.619,"dzt":-1,"v":1.07},{"dz":0.7143,"dzt":-1,"v":1.28},{"dz":0.8095,"dzt":-1,"v":1.43}
]
},
"spacing": 40,
"resolve": {"scale": {"color": "independent"}, "legend": {"color": "independent"}},
"vconcat": [
{
 "spacing": 58,
 "resolve": {"scale": {"color": "independent"}, "legend": {"color": "independent"}},
 "hconcat": [
 {
  "width": 422, "height": 280,
  "title": {"text": "(a) micro-uncertainty shock", "offset": 43, "anchor": "middle", "frame": "group", "dx": -24},
  "encoding": {
   "x": {"field": "time", "type": "quantitative", "scale": {"domain": [0.96, 31], "nice": false, "zero": false},
         "axis": {"values": [5, 10, 15, 20, 25, 30], "title": "time", "labelFontSize": 10, "labelPadding": 5, "titleFontSize": 11, "titlePadding": 9, "gridColor": "#efefef"}},
   "y": {"field": "value", "type": "quantitative", "scale": {"domain": [-0.03, 0.977], "nice": false, "zero": false},
         "axis": {"values": [0, 0.2, 0.4, 0.6, 0.8], "format": ".1f", "title": "deviation from steady state (%)", "labelFontSize": 10, "labelPadding": 13, "titleFontSize": 11, "titlePadding": 16, "gridColor": "#efefef"}}
  },
  "layer": [
   {"data": {"name": "a"}, "mark": {"type": "line", "strokeWidth": 2.6},
    "encoding": {
     "color": {"field": "series", "type": "nominal",
       "scale": {"domain": ["BigTech: Default Probability", "BigTech: Allocation Efficiency", "Bank: Default Probability", "Bank: Allocation Efficiency"], "range": ["#4c72a6", "#e06b7d", "#3d8b3d", "#d9c552"]},
       "legend": {"title": null, "orient": "none", "legendX": 271, "legendY": -3, "fillColor": "white", "strokeColor": "#e4e4e4", "padding": 8, "labelFontSize": 8, "labelColor": "#333333", "symbolSize": 64, "symbolStrokeWidth": 2.5, "clipHeight": 9, "rowPadding": 6, "labelOffset": 14,
         "encode": {"symbols": {"update": {
           "shape": {"signal": "indexof(datum.value, 'Default') >= 0 ? 'M-2.9,0H2.9M0,-1L1,0L0,1L-1,0Z' : 'M-2.9,0H2.9M0.85,0A0.85,0.85,0,1,1,-0.85,0A0.85,0.85,0,1,1,0.85,0Z'"},
           "strokeDash": {"signal": "indexof(datum.value, 'Bank') == 0 ? [5, 3] : [1, 0]"},
           "opacity": {"value": 1},
           "size": {"value": 64},
           "strokeWidth": {"value": 2.5}
         }}}}},
     "strokeDash": {"field": "series", "type": "nominal", "scale": {"domain": ["BigTech: Default Probability", "BigTech: Allocation Efficiency", "Bank: Default Probability", "Bank: Allocation Efficiency"], "range": [[1, 0], [1, 0], [8, 4], [8, 4]]}, "legend": null}
    }},
   {"data": {"name": "a"}, "transform": [{"filter": {"field": "series", "oneOf": ["BigTech: Default Probability", "Bank: Default Probability"]}}],
    "mark": {"type": "point", "shape": "diamond", "filled": true, "strokeWidth": 0, "size": 90, "opacity": 0.85},
    "encoding": {"color": {"field": "series", "type": "nominal"}}},
   {"data": {"name": "a"}, "transform": [{"filter": {"field": "series", "oneOf": ["BigTech: Allocation Efficiency", "Bank: Allocation Efficiency"]}}],
    "mark": {"type": "point", "shape": "circle", "filled": true, "strokeWidth": 0, "size": 36, "opacity": 0.55},
    "encoding": {"color": {"field": "series", "type": "nominal"}}},
   {"data": {"name": "noteA"}, "mark": {"type": "text", "fontSize": 13, "font": "Liberation Sans", "color": "#333333"},
    "encoding": {"text": {"field": "label"}}},
   {"data": {"name": "noteA"}, "mark": {"type": "point", "shape": "M-0.67,-1H0.67V1H-0.67Z", "size": 324, "filled": false, "color": "#f0a050", "strokeDash": [2, 2], "strokeWidth": 1, "opacity": 1}}
  ]
 },
 {
  "title": {"text": "(b) algorithm bias shock", "offset": 46, "anchor": "middle"},
  "resolve": {"scale": {"color": "independent"}, "legend": {"color": "independent"}},
  "hconcat": [
  {
   "width": 394, "height": 270,
   "title": {"text": "Allocation Efficiency", "font": "Liberation Sans", "fontSize": 14.5, "color": "#222222", "frame": "group", "anchor": "middle", "offset": -26},
   "data": {"name": "b"},
   "encoding": {
    "x": {"field": "time", "type": "quantitative", "scale": {"domain": [0.55, 30.9], "nice": false, "zero": false},
          "axis": {"values": [5, 10, 15, 20, 25, 30], "title": "time", "labelFontSize": 9, "labelPadding": 5, "titleFontSize": 11, "titlePadding": 8, "gridColor": "#e6e6ee"}},
    "y": {"field": "value", "type": "quantitative", "scale": {"domain": [-0.0129, 0.5665], "nice": false, "zero": false},
          "axis": {"values": [0, 0.1, 0.2, 0.3, 0.4, 0.5], "format": ".1f", "title": "deviation from steady state (%)", "labelFontSize": 9, "labelPadding": 7, "titleFontSize": 10.5, "titlePadding": 13, "gridColor": "#e6e6ee"}},
    "color": {"field": "series", "type": "nominal",
      "scale": {"domain": ["RBC", "Bank", "TechFin"], "range": ["#4673ad", "#e9677c", "#2b8a3a"]},
      "legend": {"title": null, "orient": "none", "legendX": 336, "legendY": 11, "fillColor": "white", "strokeColor": "#e4e4e4", "padding": 5, "labelFontSize": 8, "labelColor": "#333333", "symbolSize": 49, "symbolStrokeWidth": 2.5, "clipHeight": 9, "rowPadding": 5, "labelOffset": 11,
        "encode": {"symbols": {"update": {
          "shape": {"signal": "datum.value == 'RBC' ? 'M-3.1,0H3.1M0.9,0A0.9,0.9,0,1,1,-0.9,0A0.9,0.9,0,1,1,0.9,0Z' : datum.value == 'Bank' ? 'M-3.1,0H3.1M0,-1.1L1.1,0L0,1.1L-1.1,0Z' : 'M-3.1,0H3.1M0,-1L1,0.8L-1,0.8Z'"},
          "opacity": {"value": 1},
          "size": {"value": 49},
          "strokeWidth": {"value": 2.5}
        }}}}}
   },
   "layer": [
    {"mark": {"type": "line", "strokeWidth": 2.4}},
    {"transform": [{"filter": {"field": "series", "equal": "RBC"}}], "mark": {"type": "point", "shape": "circle", "filled": true, "strokeWidth": 0, "opacity": 0.85, "size": 45}},
    {"transform": [{"filter": {"field": "series", "equal": "Bank"}}], "mark": {"type": "point", "shape": "diamond", "filled": true, "strokeWidth": 0, "opacity": 0.85, "size": 60}},
    {"transform": [{"filter": {"field": "series", "equal": "TechFin"}}], "mark": {"type": "point", "shape": "triangle-up", "filled": true, "strokeWidth": 0, "opacity": 0.9, "size": 36}}
   ]
  }
  ]
 }
 ]
},
{
 "title": {"text": "(c) underlying mechanism", "offset": 58, "anchor": "middle", "dx": -8},
 "spacing": 49,
 "resolve": {"scale": {"color": "independent"}, "legend": {"color": "independent"}},
 "hconcat": [
 {
  "width": 360, "height": 260,
  "data": {"name": "hL"},
  "mark": {"type": "rect", "width": 18, "height": 13},
  "encoding": {
   "x": {"field": "dz", "type": "quantitative", "scale": {"domain": [-1.047619, 0.857143], "nice": false, "zero": false},
         "axis": {"values": [-1, -0.5, 0, 0.5], "format": ".1f", "labelExpr": "replace(datum.label, '−', '-')", "grid": false, "title": "dz", "labelFontSize": 8.5, "labelPadding": 3, "titleFontSize": 12, "titlePadding": 8}},
   "y": {"field": "dzt", "type": "quantitative", "scale": {"domain": [-1.052632, 1.052632], "nice": false, "zero": false},
         "axis": {"values": [-1, -0.5, 0, 0.5, 1], "format": ".1f", "labelExpr": "replace(datum.label, '−', '-')", "grid": false, "title": "dz̃", "labelFontSize": 8.5, "labelPadding": 2, "titleFontSize": 12, "titlePadding": 12}},
   "color": {"field": "v", "type": "quantitative", "scale": {"scheme": "redyellowblue", "reverse": true, "domain": [-1, 2]},
     "legend": {"title": null, "orient": "right", "offset": 12, "padding": 5, "direction": "vertical", "gradientLength": 270, "gradientThickness": 22, "gradientStrokeWidth": 0, "values": [-1, -0.5, 0, 0.5, 1, 1.5, 2], "labelExpr": "format(datum.value, '~g')", "labelFontSize": 10, "labelColor": "#2a3f5f", "labelOffset": 3,
       "encode": {"labels": {"update": {"baseline": {"value": "middle"}}}}}}
  }
 },
 {
  "width": 360, "height": 260,
  "data": {"name": "hR"},
  "mark": {"type": "rect", "width": 18, "height": 13},
  "encoding": {
   "x": {"field": "dz", "type": "quantitative", "scale": {"domain": [-1.047619, 0.857143], "nice": false, "zero": false},
         "axis": {"values": [-1, -0.5, 0, 0.5], "format": ".1f", "labelExpr": "replace(datum.label, '−', '-')", "grid": false, "title": "dz", "labelFontSize": 8.5, "labelPadding": 3, "titleFontSize": 12, "titlePadding": 8}},
   "y": {"field": "dzt", "type": "quantitative", "scale": {"domain": [-1.052632, 1.052632], "nice": false, "zero": false},
         "axis": {"values": [-1, -0.5, 0, 0.5, 1], "format": ".1f", "labelExpr": "replace(datum.label, '−', '-')", "grid": false, "title": "dz̃", "labelFontSize": 8.5, "labelPadding": 2, "titleFontSize": 12, "titlePadding": 12}},
   "color": {"field": "v", "type": "quantitative", "scale": {"scheme": "redyellowblue", "reverse": true, "domain": [-1, 2]},
     "legend": {"title": null, "orient": "right", "offset": 12, "padding": 5, "direction": "vertical", "gradientLength": 270, "gradientThickness": 22, "gradientStrokeWidth": 0, "values": [-1, -0.5, 0, 0.5, 1, 1.5, 2], "labelExpr": "format(datum.value, '~g')", "labelFontSize": 10, "labelColor": "#2a3f5f", "labelOffset": 3,
       "encode": {"labels": {"update": {"baseline": {"value": "middle"}}}}}}
  }
 }
 ]
}
]
}
